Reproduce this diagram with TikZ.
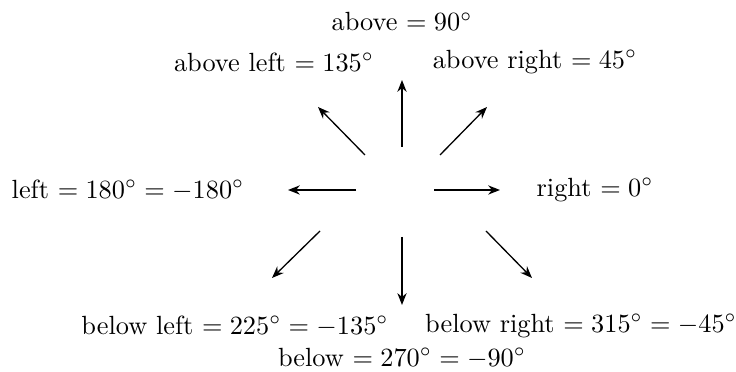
\documentclass[tikz,border=0pt]{standalone}
\usetikzlibrary{arrows.meta}
\begin{document}
\begin{tikzpicture}[x=0.38pt,y=-0.38pt,
  lbl/.style={inner sep=0pt,anchor=center},
  arr/.style={-{Stealth[length=4.5pt,width=3.5pt]},line width=0.5pt}]
\useasboundingbox (0,0) rectangle (736,372);
% labels
\node[lbl] (a)  at (402,22)  {above $=90^\circ$};
\node[lbl] (al) at (274,62)  {above left $=135^\circ$};
\node[lbl] (ar) at (535,62)  {above right $=45^\circ$};
\node[lbl] (l)  at (128,190) {left $=180^\circ=-180^\circ$};
\node[lbl] (r)  at (595,190) {right $=0^\circ$};
\node[lbl] (bl) at (235,326) {below left $=225^\circ=-135^\circ$};
\node[lbl] (br) at (581,326) {below right $=315^\circ=-45^\circ$};
\node[lbl] (b)  at (402,358) {below $=270^\circ=-90^\circ$};
% arrow ends
\coordinate (rs) at (434,190); \coordinate (re) at (500,190);
\coordinate (ls) at (356,190); \coordinate (le) at (288,190);
\coordinate (us) at (402,147); \coordinate (ue) at (402,80);
\coordinate (ds) at (402,237); \coordinate (de) at (402,305);
\coordinate (nes) at (440,155); \coordinate (nee) at (487,107);
\coordinate (nws) at (365,155); \coordinate (nwe) at (318,107);
\coordinate (sws) at (320,231); \coordinate (swe) at (272,278);
\coordinate (ses) at (486,231); \coordinate (see) at (532,278);
\draw[arr] (rs) -- (re);
\draw[arr] (ls) -- (le);
\draw[arr] (us) -- (ue);
\draw[arr] (ds) -- (de);
\draw[arr] (nes) -- (nee);
\draw[arr] (nws) -- (nwe);
\draw[arr] (sws) -- (swe);
\draw[arr] (ses) -- (see);
\end{tikzpicture}
\end{document}
